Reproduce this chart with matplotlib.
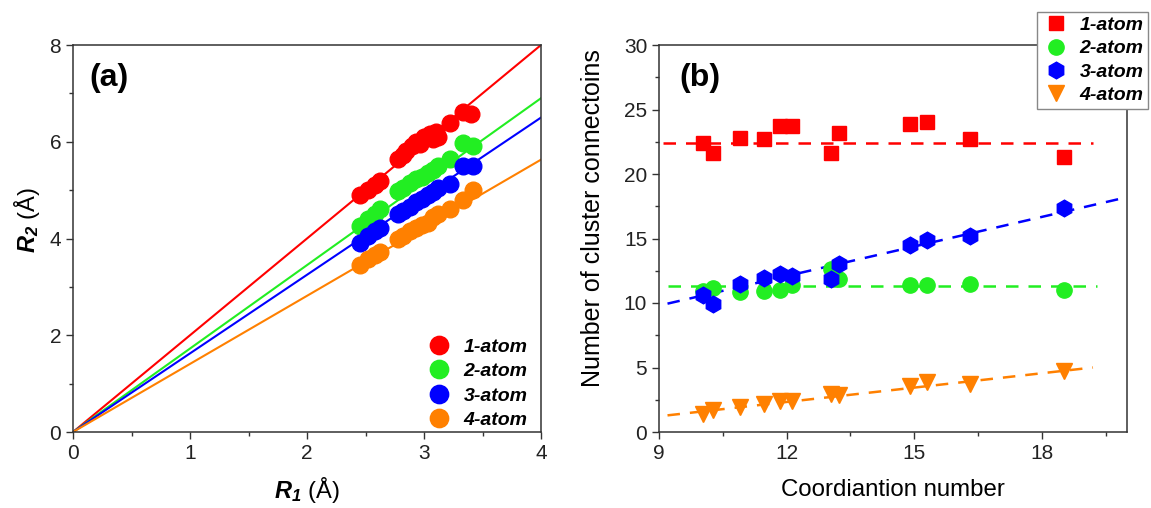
import matplotlib
matplotlib.use("Agg")
import matplotlib.pyplot as plt
from matplotlib.ticker import MultipleLocator
import numpy as np

plt.rcParams['font.family'] = ['Liberation Sans', 'DejaVu Sans']
plt.rcParams['mathtext.fontset'] = 'custom'
plt.rcParams['mathtext.bf'] = 'Liberation Sans:italic:bold'
plt.rcParams['mathtext.rm'] = 'Liberation Sans'

labels = ['1-atom', '2-atom', '3-atom', '4-atom']
colors = ['#FF0000', '#22EE22', '#0000FF', '#FF8000']

# ---- Panel (a) data ----
r1_red = [2.45, 2.52, 2.58, 2.62, 2.78, 2.82, 2.85, 2.90, 2.93, 2.97, 3.00, 3.05, 3.08, 3.10, 3.12, 3.22, 3.33, 3.40]
r2_red = [4.90, 5.00, 5.10, 5.18, 5.65, 5.72, 5.80, 5.92, 6.00, 5.95, 6.10, 6.15, 6.05, 6.20, 6.10, 6.38, 6.62, 6.58]
r1_green = [2.45, 2.52, 2.58, 2.62, 2.78, 2.82, 2.88, 2.93, 2.98, 3.03, 3.08, 3.12, 3.22, 3.33, 3.42]
r2_green = [4.25, 4.40, 4.50, 4.62, 4.98, 5.05, 5.15, 5.22, 5.28, 5.35, 5.42, 5.50, 5.65, 5.98, 5.92]
r1_blue = [2.45, 2.52, 2.58, 2.62, 2.78, 2.82, 2.88, 2.93, 2.98, 3.03, 3.08, 3.12, 3.22, 3.33, 3.42]
r2_blue = [3.90, 4.05, 4.15, 4.22, 4.50, 4.57, 4.65, 4.75, 4.82, 4.90, 4.97, 5.05, 5.12, 5.50, 5.50]
r1_orange = [2.45, 2.52, 2.58, 2.62, 2.78, 2.82, 2.88, 2.93, 2.98, 3.03, 3.08, 3.12, 3.22, 3.33, 3.42]
r2_orange = [3.45, 3.58, 3.65, 3.72, 4.00, 4.05, 4.15, 4.22, 4.28, 4.33, 4.45, 4.50, 4.62, 4.80, 5.00]
# fitted lines through origin: end values at R1 = 4
line_x = [0, 4]
line_red = [0, 8.0]
line_green = [0, 6.9]
line_blue = [0, 6.5]
line_orange = [0, 5.63]

# ---- Panel (b) data ----
cn = [10.03, 10.26, 10.9, 11.46, 11.85, 12.12, 13.05, 13.24, 14.9, 15.3, 16.3, 18.53]
conn_1 = [22.4, 21.6, 22.8, 22.75, 23.7, 23.7, 21.6, 23.2, 23.9, 24.0, 22.75, 21.3]
conn_2 = [10.9, 11.18, 10.85, 10.93, 11.0, 11.36, 12.6, 11.83, 11.4, 11.4, 11.5, 11.0]
conn_3 = [10.6, 9.9, 11.5, 11.95, 12.26, 12.08, 11.83, 13.03, 14.47, 14.9, 15.2, 17.35]
conn_4 = [1.41, 1.67, 1.93, 2.19, 2.44, 2.44, 2.96, 2.88, 3.6, 3.86, 3.73, 4.76]
fit1_x, fit1_y = [9.1, 19.2], [22.4, 22.4]
fit2_x, fit2_y = [9.2, 19.3], [11.3, 11.3]
fit3_x, fit3_y = [9.2, 19.8], [9.95, 18.05]
fit4_x, fit4_y = [9.2, 19.2], [1.29, 5.0]

fig = plt.figure(figsize=(11.51, 5.08), dpi=100)
axa = fig.add_axes([73/1151, 76/508, 468/1151, 387/508])
axb = fig.add_axes([659/1151, 76/508, 468/1151, 387/508])

spine_col = '#333333'
for ax in (axa, axb):
    for s in ax.spines.values():
        s.set_color(spine_col)
        s.set_linewidth(1.1)
    ax.tick_params(which='both', direction='out', top=False, right=False,
                   colors=spine_col, labelcolor='#222222', labelsize=15)
    ax.tick_params(which='major', length=5, width=1)
    ax.tick_params(which='minor', length=3, width=1)

# Panel (a)
a_x = [r1_red, r1_green, r1_blue, r1_orange]
a_y = [r2_red, r2_green, r2_blue, r2_orange]
a_line = [line_red, line_green, line_blue, line_orange]
for xs, ys, ly, c, lab in zip(a_x, a_y, a_line, colors, labels):
    axa.plot(line_x, ly, color=c, lw=1.5, zorder=2)
    axa.plot(xs, ys, 'o', color=c, ms=12, mec=c, label=lab, zorder=3)
axa.set_xlim(0, 4)
axa.set_ylim(0, 8)
axa.xaxis.set_major_locator(MultipleLocator(1))
axa.xaxis.set_minor_locator(MultipleLocator(0.5))
axa.yaxis.set_major_locator(MultipleLocator(2))
axa.yaxis.set_minor_locator(MultipleLocator(1))
axa.set_xlabel(r'$\mathbf{R_1}$ (Å)', fontsize=17, va='center')
axa.xaxis.set_label_coords(0.5, (432 - 490) / 387)
axa.set_ylabel(r'$\mathbf{R_2}$ (Å)', fontsize=17, va='center')
axa.yaxis.set_label_coords((27 - 73) / 468, (432 - 220) / 387)
axa.text(16 / 468, (432 - 63) / 387, '(a)', transform=axa.transAxes, fontsize=23,
         fontweight='bold', va='top', ha='left')
leg_a = axa.legend(loc='lower right', frameon=False, handletextpad=0.5,
                   labelspacing=0.35, borderaxespad=0.0, borderpad=0.15,
                   markerscale=1.1, handlelength=1.6,
                   bbox_to_anchor=(0.978, 0.0),
                   prop={'weight': 'bold', 'style': 'italic', 'size': 14})

# Panel (b)
axb.plot(fit1_x, fit1_y, '--', color=colors[0], lw=1.8, dashes=(5, 4), zorder=2)
axb.plot(fit2_x, fit2_y, '--', color=colors[1], lw=1.8, dashes=(5, 4), zorder=2)
axb.plot(fit3_x, fit3_y, '--', color=colors[2], lw=1.8, dashes=(5, 4), zorder=2)
axb.plot(fit4_x, fit4_y, '--', color=colors[3], lw=1.8, dashes=(5, 4), zorder=2)
axb.plot(cn, conn_1, 's', color=colors[0], ms=10, label=labels[0], zorder=3)
axb.plot(cn, conn_2, 'o', color=colors[1], ms=11, label=labels[1], zorder=3)
axb.plot(cn, conn_3, 'h', color=colors[2], ms=12, label=labels[2], zorder=4)
axb.plot(cn, conn_4, 'v', color=colors[3], ms=12, label=labels[3], zorder=3)
axb.set_xlim(9, 20)
axb.set_ylim(0, 30)
axb.xaxis.set_major_locator(MultipleLocator(3))
axb.xaxis.set_minor_locator(MultipleLocator(1.5))
axb.yaxis.set_major_locator(MultipleLocator(5))
axb.yaxis.set_minor_locator(MultipleLocator(2.5))
axb.set_xlabel('Coordiantion number', fontsize=17.3, va='center')
axb.xaxis.set_label_coords(0.5, (432 - 490) / 387)
axb.set_ylabel('Number of cluster connectoins', fontsize=18, va='center')
axb.yaxis.set_label_coords((593 - 659) / 468, (432 - 218) / 387)
axb.text(20 / 468, (432 - 63) / 387, '(b)', transform=axb.transAxes, fontsize=23,
         fontweight='bold', va='top', ha='left')
leg_b = axb.legend(loc='upper right', bbox_to_anchor=(1148/1151, 496/508),
                   bbox_transform=fig.transFigure, frameon=True, fancybox=False,
                   edgecolor='#888888', framealpha=1, borderaxespad=0,
                   handletextpad=0.4, labelspacing=0.3, borderpad=0.22,
                   handlelength=1.6,
                   prop={'weight': 'bold', 'style': 'italic', 'size': 14})
leg_b.get_frame().set_linewidth(1.0)
leg_b.set_zorder(10)

fig.savefig('out.png', dpi=100)
